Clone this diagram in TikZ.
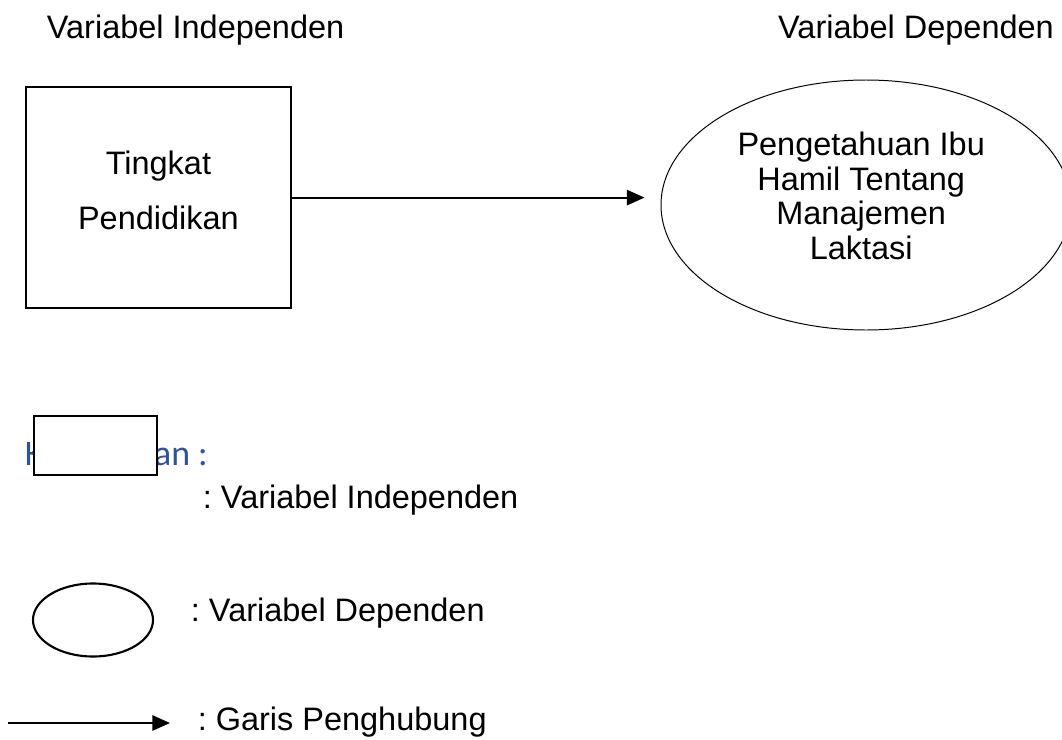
\documentclass[tikz,border=0pt]{standalone}
\usepackage{fontspec}
\setmainfont{Liberation Sans}
\newfontfamily\ketfont{Carlito}
\usetikzlibrary{arrows.meta,shapes.geometric}
\definecolor{ketblue}{RGB}{47,84,150}
\frenchspacing

\begin{document}
\begin{tikzpicture}[every node/.style={font=\fontsize{23.1}{24.6}\selectfont}, >={Triangle[length=4.4mm,width=3.8mm]},
	varbox/.style={draw, line width=1.5pt, inner sep=0pt, align=center},
	varoval/.style={draw, ellipse, inner sep=0pt, align=center},
	legtext/.style={anchor=west}]
	\useasboundingbox (0,0) rectangle (26.55,-18.5);
	\begin{scope}
		\node (judulind) at (4.89,-0.75) {Variabel Independen};
		\node (juduldep) at (22.9,-0.75) {Variabel Dependen};
		\node[varbox, minimum width=6.625cm, minimum height=5.525cm] (pendidikan) at (3.96,-4.94) {};
		\node[align=center, font=\fontsize{23.1}{39.8}\selectfont] (tekspend) at ([yshift=0.18cm]pendidikan.center) {Tingkat\\Pendidikan};
		\node[varoval, line width=0.7pt, minimum width=10.25cm, minimum height=6.25cm] (pengetahuan) at (21.65,-5.125) {};
		\node[align=center] (tekspeng) at ([xshift=-0.12cm, yshift=0.23cm]pengetahuan.center)
			{Pengetahuan Ibu\\Hamil Tentang\\Manajemen\\Laktasi};
		\draw[->, line width=1.5pt, shorten >=0.4cm] (pendidikan.east) -- (pendidikan.east -| pengetahuan.west);
	\end{scope}
	\begin{scope}
		\node[anchor=base west, text=ketblue, font=\ketfont\fontsize{25.5}{28}\selectfont] (ket) at (0.5,-11.625) {Keterangan :};
		\node[varbox, fill=white, minimum width=3.075cm, minimum height=1.475cm] (legbox) at (2.39,-11.14) {};
		\node[legtext] (legind) at (4.95,-12.5) {: Variabel Independen};
		\node[varoval, line width=1.5pt, minimum width=3cm, minimum height=1.825cm] (legoval) at (2.325,-15.5) {};
		\node[legtext] (legdep) at (4.65,-15.33) {: Variabel Dependen};
		\coordinate (panahA) at (0.2,-18.075);
		\coordinate (panahB) at (4.25,-18.075);
		\draw[->, line width=1.5pt] (panahA) -- (panahB);
		\node[legtext] (leggaris) at (4.82,-18.05) {: Garis Penghubung};
	\end{scope}
\end{tikzpicture}
\end{document}
